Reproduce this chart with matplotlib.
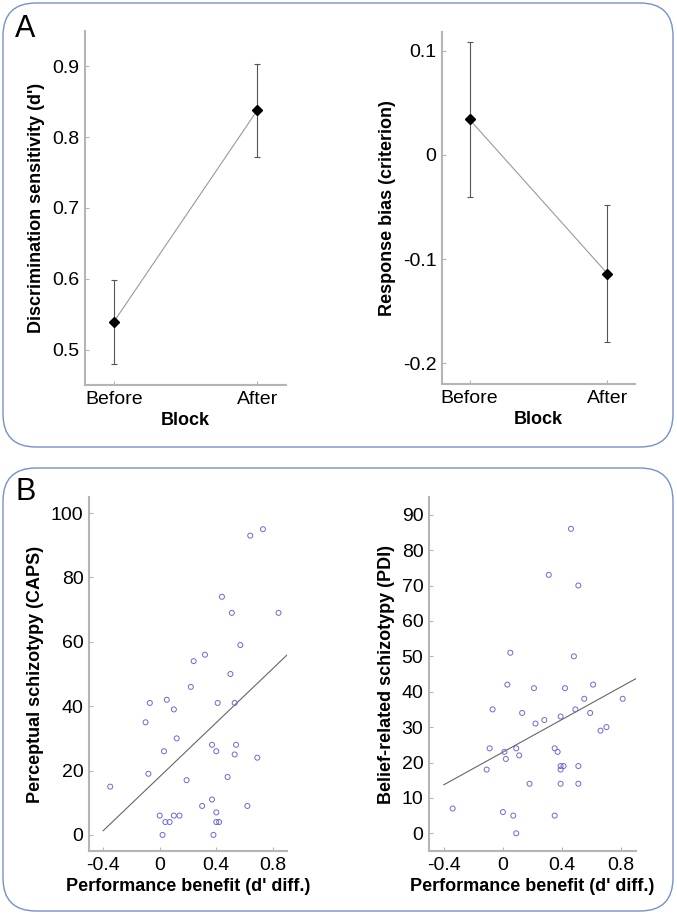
import numpy as np
import matplotlib
matplotlib.use('Agg')
import matplotlib.pyplot as plt
from matplotlib.patches import FancyBboxPatch

plt.rcParams['font.family'] = ['Liberation Sans', 'DejaVu Sans']
plt.rcParams['axes.unicode_minus'] = False

# panel A data
blocks = ['Before', 'After']
dprime_mean = [0.539, 0.838]
dprime_err = [0.060, 0.066]
crit_mean = [0.034, -0.114]
crit_err = [0.074, 0.066]

# panel B data (d' difference vs schizotypy scores)
caps_x = [-0.35, -0.08, -0.10, -0.07, 0.05, 0.10, 0.03, 0.12, 0.22, 0.19,
          0.00, 0.04, 0.07, 0.10, 0.14, 0.02, 0.30, 0.37, 0.37, 0.40,
          0.40, 0.40, 0.42, 0.38, 0.41, 0.48, 0.54, 0.53, 0.53, 0.50,
          0.62, 0.69, 0.64, 0.73, 0.44, 0.51, 0.84, 0.57, 0.24, 0.32]
caps_y = [15, 19, 35, 41, 42, 39, 26, 30, 46, 17,
          6, 4, 4, 6, 6, 0, 9, 11, 28, 26,
          7, 4, 4, 0, 41, 18, 28, 25, 41, 50,
          9, 24, 93, 95, 74, 69, 69, 59, 54, 56]
caps_fit_x = [-0.4, 0.9]
caps_fit_y = [1.3, 55.9]

pdi_x = [-0.34, -0.11, -0.09, -0.07, 0.03, 0.00, 0.07, 0.09, 0.01, 0.02,
         0.09, 0.11, 0.13, 0.18, 0.21, 0.22, 0.28, 0.35, 0.37, 0.35,
         0.39, 0.39, 0.39, 0.41, 0.39, 0.42, 0.49, 0.51, 0.51, 0.55,
         0.59, 0.61, 0.66, 0.70, 0.81, 0.46, 0.31, 0.51, 0.05, 0.48]
pdi_y = [7, 18, 24, 35, 42, 6, 5, 0, 23, 21,
         24, 22, 34, 14, 41, 31, 32, 24, 23, 5,
         33, 18, 19, 19, 14, 41, 35, 19, 14, 38,
         34, 42, 29, 30, 38, 86, 73, 70, 51, 50]
pdi_fit_x = [-0.4, 0.9]
pdi_fit_y = [13.7, 43.7]

W, H = 677, 915
fig = plt.figure(figsize=(W / 100, H / 100), dpi=100)

# rounded frames around the two panels
box_col = '#7392c8'
for x0, y0, x1, y1 in [(3, 3, 673, 447), (3, 468, 673, 911)]:
    fig.patches.append(FancyBboxPatch(
        (x0 / 100, (H - y1) / 100), (x1 - x0) / 100, (y1 - y0) / 100,
        boxstyle='round,pad=0,rounding_size=0.33', transform=fig.dpi_scale_trans,
        facecolor='none', edgecolor=box_col, linewidth=1.0))

fig.text(15 / W, 1 - 37 / H, 'A', fontsize=22)
fig.text(15 / W, 1 - 500 / H, 'B', fontsize=22)


def ax_at(l, t, r, b):
    return fig.add_axes([l / W, 1 - b / H, (r - l) / W, (b - t) / H])


def style(ax):
    for s in ['top', 'right']:
        ax.spines[s].set_visible(False)
    for s in ['left', 'bottom']:
        ax.spines[s].set_color('#b5b5b5')
        ax.spines[s].set_linewidth(1.5)
    ax.tick_params(direction='in', length=3, width=0.8, color='#b5b5b5',
                   labelsize=14, pad=4)


def block_plot(ax, mean, err, ylab):
    xs = [1, 2]
    ax.plot(xs, mean, color='#9a9a9a', lw=0.8, zorder=1)
    ax.errorbar(xs, mean, yerr=err, fmt='none', ecolor='#555555',
                elinewidth=0.8, capsize=2, capthick=0.8, zorder=2)
    ax.plot(xs, mean, 'D', color='black', ms=5, zorder=3)
    ax.set_xlim(0.8, 2.2)
    ax.set_xticks(xs)
    ax.set_xticklabels(blocks)
    ax.set_xlabel('Block', fontsize=13, fontweight='bold', labelpad=3)
    ax.set_ylabel(ylab, fontsize=13, fontweight='bold', labelpad=5)
    style(ax)


ax1 = ax_at(85, 31, 286, 385)
block_plot(ax1, dprime_mean, dprime_err, "Discrimination sensitivity (d')")
ax1.set_ylim(0.45, 0.95)
ax1.set_yticks([0.5, 0.6, 0.7, 0.8, 0.9])

ax2 = ax_at(442, 32, 635, 384)
block_plot(ax2, crit_mean, crit_err, 'Response bias (criterion)')
ax2.set_ylim(-0.22, 0.118)
ax2.set_yticks([-0.2, -0.1, 0, 0.1])
ax2.set_yticklabels(['-0.2', '-0.1', '0', '0.1'])


def scatter_plot(ax, x, y, fx, fy, ylab):
    ax.scatter(x, y, s=13, facecolors='none', edgecolors='#6b6bd6',
               linewidths=0.7, zorder=2)
    ax.plot(fx, fy, color='#666666', lw=0.8, zorder=1)
    ax.set_xlim(-0.5, 0.9)
    ax.set_xticks([-0.4, 0, 0.4, 0.8])
    ax.set_xticklabels(['-0.4', '0', '0.4', '0.8'])
    ax.set_xlabel("Performance benefit (d' diff.)", fontsize=13,
                  fontweight='bold', labelpad=3)
    ax.set_ylabel(ylab, fontsize=13, fontweight='bold', labelpad=5)
    style(ax)


ax3 = ax_at(89, 497, 287, 851)
scatter_plot(ax3, caps_x, caps_y, caps_fit_x, caps_fit_y,
             'Perceptual schizotypy (CAPS)')
ax3.set_ylim(-5, 105)
ax3.set_yticks(np.arange(0, 101, 20))

ax4 = ax_at(429, 497, 636, 851)
scatter_plot(ax4, pdi_x, pdi_y, pdi_fit_x, pdi_fit_y,
             'Belief-related schizotypy (PDI)')
ax4.set_ylim(-5, 95)
ax4.set_yticks(np.arange(0, 91, 10))

fig.savefig('out.png', dpi=100)
